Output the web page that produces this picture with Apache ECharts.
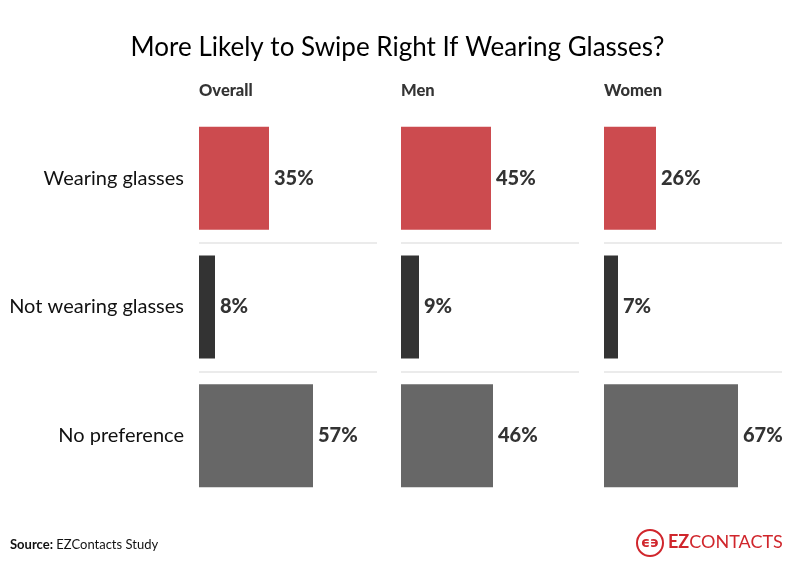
<!DOCTYPE html>
<html><head><meta charset="utf-8">
<script src="https://cdn.jsdelivr.net/npm/echarts@6/dist/echarts.min.js"></script>
<style>html,body{margin:0;padding:0;background:#fff}#c{width:795px;height:575px}</style>
</head><body><div id="c"></div>
<script>
const chartTitle = 'More Likely to Swipe Right If Wearing Glasses?';
const categories = ['Wearing glasses', 'Not wearing glasses', 'No preference'];
const panels = ['Overall', 'Men', 'Women'];
const overall = [35, 8, 57];
const men = [45, 9, 46];
const women = [26, 7, 67];
const barColors = ['#cc4b4f', '#333333', '#676767'];
const sourceLabel = 'Source:';
const sourceText = ' EZContacts Study';

const panelData = [overall, men, women];
const gridLefts = [199, 401, 604];
const FONT = 'Lato';

const chart = echarts.init(document.getElementById('c'));
const grids = [], xAxes = [], yAxes = [], series = [];
panelData.forEach((vals, i) => {
  grids.push({left: gridLefts[i], width: 178, top: 114, height: 386});
  xAxes.push({gridIndex: i, type: 'value', min: 0, max: 89, show: false});
  yAxes.push({
    gridIndex: i, type: 'category', data: categories, inverse: true,
    axisLine: {show: false}, axisTick: {show: false},
    axisLabel: {show: i === 0, fontFamily: FONT, fontSize: 20, color: '#111', margin: 15},
    splitLine: {show: true, interval: 0,
      lineStyle: {color: ['rgba(0,0,0,0)', '#ebebeb', '#ebebeb', 'rgba(0,0,0,0)'], width: 2}}
  });
  series.push({
    type: 'bar', xAxisIndex: i, yAxisIndex: i, barWidth: 103,
    data: vals.map((v, k) => ({value: v, itemStyle: {color: barColors[k]}})),
    label: {show: true, position: 'right', distance: 5, formatter: '{c}%',
      fontFamily: FONT, fontWeight: 900, fontSize: 20, color: '#333'},
    silent: true, animation: false
  });
});

const titles = [{
  text: chartTitle, left: 'center', top: 30,
  textStyle: {fontFamily: FONT, fontWeight: 'normal', fontSize: 26, color: '#000'}
}];
panels.forEach((p, i) => titles.push({
  text: p, left: gridLefts[i] - 5, top: 77,
  textStyle: {fontFamily: FONT, fontWeight: 900, fontSize: 16.5, color: '#333'}
}));

chart.setOption({
  animation: false,
  title: titles,
  grid: grids, xAxis: xAxes, yAxis: yAxes, series: series,
  graphic: [
    {type: 'text', left: 10, top: 538, style: {
      text: '{b|' + sourceLabel + '}{n|' + sourceText + '}',
      rich: {b: {fontFamily: FONT, fontWeight: 'bold', fontSize: 13, fill: '#111'},
             n: {fontFamily: FONT, fontSize: 13, fill: '#111'}}}},
    {type: 'circle', shape: {cx: 650, cy: 543, r: 13}, style: {fill: 'none', stroke: '#d0262c', lineWidth: 2}},
    {type: 'text', x: 650, y: 543, style: {text: 'ϵ϶', fontSize: 14, fontWeight: 'bold', fill: '#d0262c', align: 'center', verticalAlign: 'middle', fontFamily: 'DejaVu Sans'}},
    {type: 'text', left: 668, top: 533, style: {
      text: '{b|EZ}{n|CONTACTS}',
      rich: {b: {fontFamily: FONT, fontWeight: 'bold', fontSize: 18, fill: '#d0262c'},
             n: {fontFamily: FONT, fontSize: 18, fill: '#d0262c'}}}}
  ]
});
</script></body></html>
